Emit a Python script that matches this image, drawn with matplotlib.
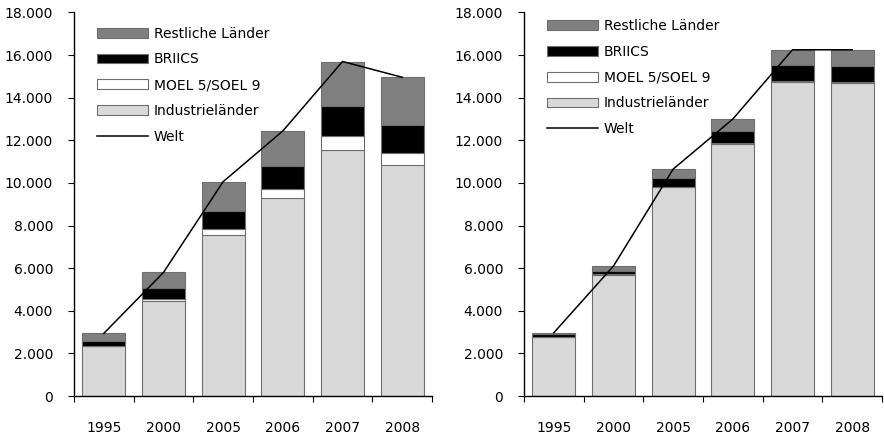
import matplotlib.pyplot as plt
import numpy as np
from matplotlib.ticker import FuncFormatter
from matplotlib.patches import Patch
from matplotlib.lines import Line2D

years = ["1995", "2000", "2005", "2006", "2007", "2008"]

# left chart
ind_l = [2330, 4470, 7560, 9280, 11530, 10830]
moel_l = [20, 80, 280, 440, 660, 590]
briics_l = [230, 500, 860, 1060, 1440, 1280]
rest_l = [360, 750, 1360, 1660, 2070, 2260]
welt_l = [2940, 5800, 10060, 12440, 15700, 14960]

# right chart
ind_r = [2750, 5680, 9800, 11850, 14720, 14700]
moel_r = [20, 30, 30, 40, 60, 30]
briics_r = [140, 180, 390, 550, 770, 740]
rest_r = [60, 210, 420, 560, 700, 780]
welt_r = [2970, 6100, 10650, 13000, 16250, 16250]

labels = ["Industrieländer", "MOEL 5/SOEL 9", "BRIICS", "Restliche Länder"]
colors = ["#d9d9d9", "#ffffff", "#000000", "#808080"]
edge = "#6e6e6e"

plt.rcParams['font.family'] = ['DejaVu Sans']
plt.rcParams['font.size'] = 10


def draw(ax, series, welt, leg_anchor):
	x = np.arange(len(years))
	bottom = np.zeros(len(years))
	for vals, col in zip(series, colors):
		ax.bar(x, vals, width=0.72, bottom=bottom, color=col, edgecolor=edge, linewidth=0.8, zorder=2)
		bottom += np.array(vals)
	ax.plot(x, welt, color="black", linewidth=1.1, zorder=3)

	ax.set_xlim(-0.5, 5.5)
	ax.set_ylim(0, 18000)
	ax.set_yticks(np.arange(0, 18001, 2000))
	ax.yaxis.set_major_formatter(FuncFormatter(lambda v, p: f"{int(v):,}".replace(",", ".")))
	ax.set_xticks(np.arange(-0.5, 6, 1.0))
	ax.set_xticklabels([])
	ax.set_xticks(x, minor=True)
	ax.set_xticklabels(years, minor=True)
	ax.tick_params(axis="x", which="major", length=4, width=0.8, direction="out")
	ax.tick_params(axis="x", which="minor", length=0, pad=18)
	ax.tick_params(axis="y", length=4, width=0.8, pad=11)
	for s in ["top", "right"]:
		ax.spines[s].set_visible(False)
	for s in ["left", "bottom"]:
		ax.spines[s].set_linewidth(1.0)

	handles = [Patch(facecolor=c, edgecolor=edge, linewidth=0.8) for c in colors[::-1]]
	handles.append(Line2D([], [], color="black", linewidth=1.1))
	ax.legend(handles, labels[::-1] + ["Welt"], loc="upper left", bbox_to_anchor=leg_anchor,
		bbox_transform=ax.figure.transFigure, frameon=False, borderpad=0, borderaxespad=0,
		handlelength=3.7, handleheight=0.7, handletextpad=0.4, labelspacing=0.85)


fig = plt.figure(figsize=(8.84, 4.38), dpi=100)
ax1 = fig.add_axes([74 / 884, 1 - 396 / 438, 358 / 884, 383.5 / 438])
ax2 = fig.add_axes([524 / 884, 1 - 396 / 438, 358 / 884, 383.5 / 438])

draw(ax1, [ind_l, moel_l, briics_l, rest_l], welt_l, (97 / 884, 1 - 26.5 / 438))
draw(ax2, [ind_r, moel_r, briics_r, rest_r], welt_r, (547 / 884, 1 - 19 / 438))

fig.savefig("out.png", dpi=100)
